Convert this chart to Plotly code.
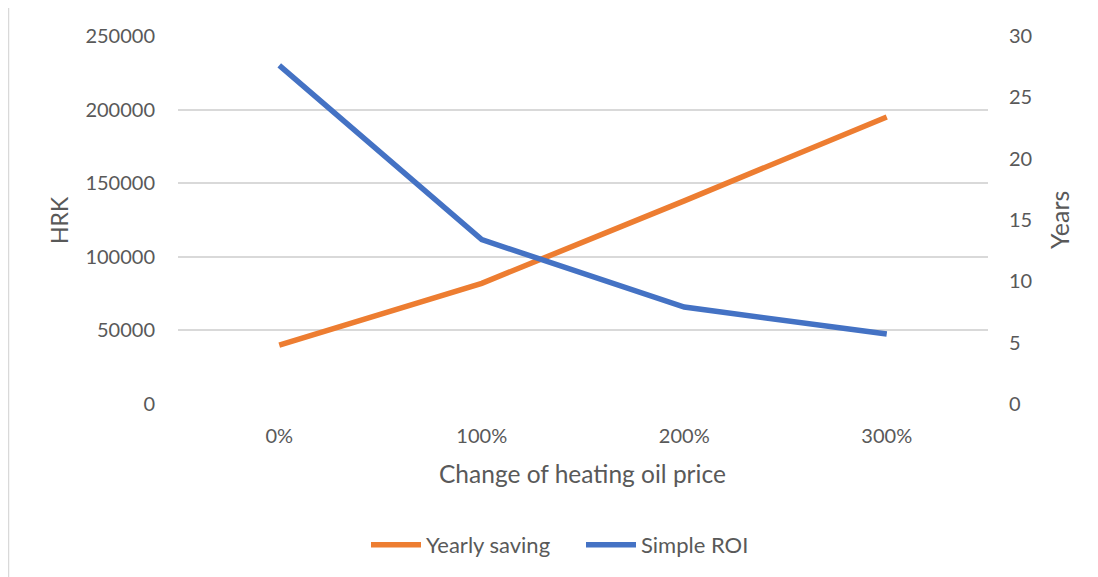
import plotly.graph_objects as go

categories = ["0%", "100%", "200%", "300%"]
yearly_saving = [40000, 82000, 138000, 195000]
simple_roi = [27.6, 13.4, 7.9, 5.7]
left_ticks = [0, 50000, 100000, 150000, 200000, 250000]
left_labels = ["0", "50000", "100000", "150000", "200000", "250000"]
right_ticks = [0, 5, 10, 15, 20, 25, 30]

FONT = "Lato"
TXT = "#595959"
GRID = "#d9d9d9"
OFF = 8  # page body margin offset

fig = go.Figure()
fig.add_trace(go.Scatter(x=categories, y=yearly_saving, name="Yearly saving",
                         mode="lines", line=dict(color="#ED7D31", width=5.5)))
fig.add_trace(go.Scatter(x=categories, y=simple_roi, name="Simple ROI", yaxis="y2",
                         mode="lines", line=dict(color="#4472C4", width=5.5)))

W, H = 1090, 569
L, T = 178 - OFF, 36 - OFF
pw, ph = 810, 368
R = W - L - pw
B = H - T - ph

def px(x):
    return (x - OFF - L) / pw

def py(y):
    return (T + ph - (y - OFF)) / ph

fig.update_layout(
    width=W, height=H,
    margin=dict(l=L, r=R, t=T, b=B, autoexpand=False),
    paper_bgcolor="white", plot_bgcolor="white",
    font=dict(family=FONT, color=TXT, size=20),
    showlegend=True,
    legend=dict(orientation="h", x=px(366), xanchor="left", y=py(545), yanchor="middle",
                font=dict(size=22, color=TXT), itemwidth=50, bgcolor="rgba(0,0,0,0)",
                entrywidth=150),
    xaxis=dict(type="category", range=[-0.5, 3.5], showgrid=False, zeroline=False,
               showline=False, ticks="", tickfont=dict(size=20, color=TXT),
               ticklabelstandoff=18),
    yaxis=dict(range=[0, 250000], tickvals=left_ticks, ticktext=left_labels,
               showgrid=True, gridcolor=GRID,
               gridwidth=1.5, zeroline=False, showline=False, ticks="",
               tickfont=dict(size=20, color=TXT), ticklabelstandoff=22),
    yaxis2=dict(range=[0, 30], tickvals=right_ticks, overlaying="y", side="right",
                showgrid=False, zeroline=False, showline=False, ticks="",
                tickfont=dict(size=20, color=TXT), ticklabelstandoff=20),
    shapes=[dict(type="rect", xref="paper", yref="paper",
                 x0=px(8.5), x1=px(1150), y0=py(650), y1=py(7),
                 line=dict(color="#d9d9d9", width=1.5), fillcolor="rgba(0,0,0,0)",
                 layer="below")],
    annotations=[
        dict(text="HRK", xref="paper", yref="paper", x=px(59), y=py(220),
             showarrow=False, textangle=-90, font=dict(size=23, color=TXT),
             xanchor="center", yanchor="middle"),
        dict(text="Years", xref="paper", yref="paper", x=px(1059), y=py(220),
             showarrow=False, textangle=-90, font=dict(size=25, color=TXT),
             xanchor="center", yanchor="middle"),
        dict(text="Change of heating oil price", xref="paper", yref="paper",
             x=px(582), y=py(473), showarrow=False, font=dict(size=24.5, color=TXT),
             xanchor="center", yanchor="middle"),
    ],
)

fig.write_html("out.html")
